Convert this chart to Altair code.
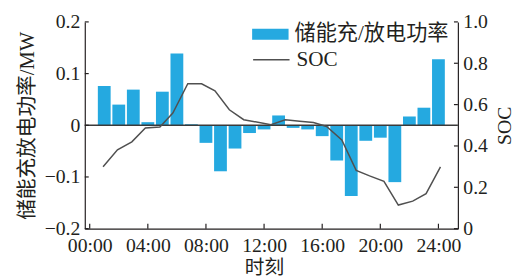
import altair as alt
import pandas as pd

# ---- data ----
hours = list(range(1, 25))
power = [0.076, 0.040, 0.069, 0.006, 0.065, 0.139, 0.002, -0.034, -0.089, -0.045,
         -0.015, -0.008, 0.019, -0.005, -0.008, -0.021, -0.068, -0.137, -0.030, -0.024,
         -0.110, 0.017, 0.034, 0.128]
soc_time = [0.92, 1.91, 2.9, 3.83, 4.83, 5.72, 6.75, 7.7, 8.62, 9.61, 10.6,
            12.47, 13.46, 14.45, 15.4, 16.3, 17.35, 18.34, 19.26, 20.25, 21.24,
            22.23, 23.15, 24.14]
soc = [0.299, 0.381, 0.420, 0.487, 0.492, 0.559, 0.701, 0.701, 0.667, 0.575, 0.527,
       0.503, 0.527, 0.520, 0.513, 0.494, 0.429, 0.282, 0.255, 0.229, 0.114,
       0.133, 0.169, 0.299]
x_ticks = [0, 4, 8, 12, 16, 20, 24]
x_labels = ["00:00", "04:00", "08:00", "12:00", "16:00", "20:00", "24:00"]
left_ticks = [-0.2, -0.1, 0, 0.1, 0.2]
right_ticks = [0, 0.2, 0.4, 0.6, 0.8, 1.0]
bar_name = "储能充/放电功率"
line_name = "SOC"

W, H = 379, 210
FONT = "Liberation Serif, Noto Sans CJK SC"
INK = "#231f20"
BAR = "#25a9e0"
LINE = "#505050"

bar_df = pd.DataFrame({"t": hours, "p": power, "k": [bar_name] * len(hours)})
soc_df = pd.DataFrame({"t": soc_time, "s": soc, "k": [line_name] * len(soc)})

xs = alt.Scale(domain=[0, 25], nice=False, zero=False)
yl = alt.Scale(domain=[-0.2, 0.2], nice=False)
yr = alt.Scale(domain=[0, 1], nice=False)

num_fmt = "datum.value == 0 ? '0' : format(datum.value, '.1f')"
lab_map = "{" + ", ".join(f"'{v}': '{s}'" for v, s in zip(x_ticks, x_labels)) + "}"
x_axis = alt.Axis(values=x_ticks, title="时刻", labelFlush=False, labelOverlap=False,
                  labelExpr=lab_map + "[datum.value + '']",
                  labelPadding=7, titleX=182, titleY=30, titleBaseline="top")

bars = alt.Chart(bar_df).mark_bar(size=13).encode(
    x=alt.X("t:Q", scale=xs, axis=x_axis),
    y=alt.Y("p:Q", scale=yl, axis=alt.Axis(
        orient="left", values=left_ticks, labelExpr=num_fmt, titleFontSize=21,
        title="储能充放电功率/MW", labelPadding=5, titlePadding=7)),
    fill=alt.Fill("k:N", scale=alt.Scale(domain=[bar_name], range=[BAR]),
                  legend=alt.Legend(orient="none", legendX=170, legendY=-6, title=None,
                                    symbolType="M-1,-0.3H1V0.3H-1Z", symbolSize=1369,
                                    symbolStrokeWidth=0, labelOffset=6, padding=0)),
)

zero = alt.Chart(pd.DataFrame({"v": [0]})).mark_rule(color="#3a3a3a", strokeWidth=1.5).encode(
    y=alt.Y("v:Q", scale=yl, axis=None), x=alt.value(0), x2=alt.value(W))

line = alt.Chart(soc_df).mark_line(strokeWidth=1.5).encode(
    x=alt.X("t:Q", scale=xs, axis=x_axis),
    y=alt.Y("s:Q", scale=yr, axis=alt.Axis(
        orient="right", values=right_ticks, labelExpr=num_fmt, title="SOC",
        labelPadding=5, titlePadding=7, titleAngle=270, titleBaseline="top")),
    stroke=alt.Stroke("k:N", scale=alt.Scale(domain=[line_name], range=[LINE]),
                      legend=alt.Legend(orient="none", legendX=170, legendY=19, title=None,
                                        symbolType="stroke", symbolSize=1369,
                                        symbolStrokeWidth=1.5, labelOffset=6, padding=0)),
)

xt = alt.Chart(pd.DataFrame({"v": x_ticks})).mark_rule(color=INK, strokeWidth=1.2).encode(
    x=alt.X("v:Q", scale=xs, axis=x_axis), y=alt.value(H), y2=alt.value(H - 5))
ylt = alt.Chart(pd.DataFrame({"v": left_ticks})).mark_rule(color=INK, strokeWidth=1.2).encode(
    y=alt.Y("v:Q", scale=yl, axis=None), x=alt.value(0), x2=alt.value(4))
yrt = alt.Chart(pd.DataFrame({"v": right_ticks})).mark_rule(color=INK, strokeWidth=1.2).encode(
    y=alt.Y("v:Q", scale=yr, axis=None), x=alt.value(W - 4), x2=alt.value(W))

chart = alt.layer(bars, zero, line, xt, ylt, yrt).resolve_scale(
    y="independent", fill="independent", stroke="independent"
).properties(
    width=W, height=H,
    autosize=alt.AutoSizeParams(type="none"),
    padding={"left": 78, "top": 12, "right": 57, "bottom": 48},
).configure_view(stroke=None).configure_axis(
    grid=False, ticks=False, domainColor=INK, domainWidth=1.2,
    labelFont=FONT, titleFont=FONT, labelFontSize=20, titleFontSize=20,
    labelColor=INK, titleColor=INK, titleFontWeight="normal",
).configure_legend(
    labelFont=FONT, labelFontSize=21.5, labelColor=INK, labelLimit=400,
)

chart.save("out.html", embed_options={"renderer": "svg", "actions": False})
